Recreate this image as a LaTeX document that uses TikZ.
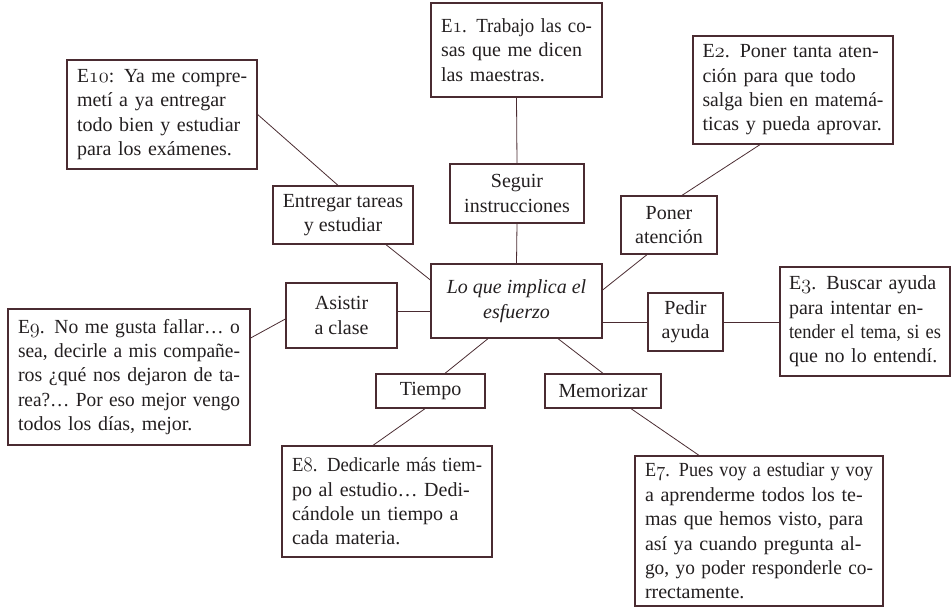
\documentclass[tikz,border=0pt]{standalone}
\usepackage{graphicx}
\usepackage{fontspec}
\setmainfont{Liberation Serif}
\usetikzlibrary{positioning}
\definecolor{frame}{HTML}{4A2B31}
\definecolor{ink}{HTML}{231F20}
\newlength\qwidth
\newsavebox\qlinebox
\newcommand\jl[1]{\sbox\qlinebox{#1}%
  \ifdim\wd\qlinebox>\qwidth \resizebox{\qwidth}{\height}{#1}\else\makebox[\qwidth][s]{#1}\fi\\}
\newcommand\qlast[1]{\sbox\qlinebox{#1}%
  \ifdim\wd\qlinebox>\qwidth \resizebox{\qwidth}{\height}{#1}\else #1\fi}
\newcommand\osn[1]{{\usefont{OML}{cmm}{m}{it}#1}}
\tikzset{
  box/.style={draw=frame, line width=1.3pt, inner sep=0pt, text=ink,
    font=\fontsize{20}{24.4}\selectfont, align=center},
  quote/.style={box, align=left, text width=#1, execute at begin node={\setlength\qwidth{#1}}},
  link/.style={draw=frame, line width=0.8pt}
}
\begin{document}
\begin{tikzpicture}[x=1pt,y=-1pt]
\useasboundingbox (0,0) rectangle (951,611);
% quotes
\node[quote=151pt, minimum width=171pt, minimum height=94pt] (e1) at (516.5,50)
 {\jl{E\osn{1}. Trabajo las co-}\jl{sas que me dicen}\qlast{las maestras.}};
\node[quote=170pt, minimum width=190pt, minimum height=109pt] (e10) at (162,114.5)
 {\jl{E\osn{10}: Ya me compre-}\jl{metí a ya entregar}\jl{todo bien y estudiar}\qlast{para los exámenes.}};
\node[quote=181pt, minimum width=200pt, minimum height=108pt] (e2) at (793,90)
 {\jl{E\osn{2}. Poner tanta aten-}\jl{ción para que todo}\jl{salga bien en matemá-}\qlast{ticas y pueda aprovar.}};
\node[quote=152pt, minimum width=170pt, minimum height=109pt] (e3) at (865,321.5)
 {\jl{E\osn{3}. Buscar ayuda}\jl{para intentar en-}\jl{tender el tema, si es}\qlast{que no lo entendí.}};
\node[quote=222pt, minimum width=242pt, minimum height=136pt] (e9) at (129,377)
 {\jl{E\osn{9}. No me gusta fallar… o}\jl{sea, decirle a mis compañe-}\jl{ros ¿qué nos dejaron de ta-}\jl{rea?… Por eso mejor vengo}\qlast{todos los días, mejor.}};
\node[quote=190pt, minimum width=210pt, minimum height=111pt] (e8) at (387,501.5)
 {\jl{E\osn{8}. Dedicarle más tiem-}\jl{po al estudio… Dedi-}\jl{cándole un tiempo a}\qlast{cada materia.}};
\node[quote=228pt, minimum width=248pt, minimum height=150pt] (e7) at (759,531)
 {\jl{E\osn{7}. Pues voy a estudiar y voy}\jl{a aprenderme todos los te-}\jl{mas que hemos visto, para}\jl{así ya cuando pregunta al-}\jl{go, yo poder responderle co-}\qlast{rrectamente.}};
% categories
\node[box, minimum width=140pt, minimum height=58pt] (ent) at (343,215) {Entregar tareas\\y estudiar};
\node[box, minimum width=134pt, minimum height=59pt] (seg) at (517,193.5) {Seguir\\instrucciones};
\node[box, minimum width=96pt, minimum height=58pt] (pon) at (669,225) {Poner\\atención};
\node[box, minimum width=75pt, minimum height=58pt] (ped) at (685.5,322) {Pedir\\ayuda};
\node[box, minimum width=111pt, minimum height=65pt] (asis) at (341.5,315.5) {Asistir\\a clase};
\node[box, minimum width=109pt, minimum height=34pt] (tie) at (430.5,391) {Tiempo};
\node[box, minimum width=116pt, minimum height=34pt] (mem) at (603,391) {Memorizar};
% centre
\node[box, minimum width=171pt, minimum height=74pt, font=\fontsize{20}{24.4}\selectfont\itshape] (ctr) at (516.5,301) {Lo que implica el\\esfuerzo};
% connectors
\draw[link] (e10.east) -- ([xshift=-5pt]ent.north);
\draw[link] ([xshift=43pt]ent.south) -- ([yshift=21pt]ctr.west);
\draw[link] (e1.south) -- (seg.north);
\draw[link] (seg.south) -- (ctr.north);
\draw[link] ([xshift=-33pt]e2.south) -- ([xshift=13pt]pon.north);
\draw[link] ([xshift=-22pt]pon.south) -- ([yshift=11pt]ctr.east);
\draw[link] (ped.west -| ctr.east) -- (ped.west);
\draw[link] (ped.east) -- (ped.east -| e3.west);
\draw[link] ([yshift=4pt]asis.east) -- ([yshift=4pt]asis.east -| ctr.west);
\draw[link] ([yshift=39pt]e9.east) -- ([yshift=-3.5pt]asis.west);
\draw[link] ([xshift=-28.5pt]ctr.south) -- ([xshift=14.5pt]tie.north);
\draw[link] ([xshift=-5.5pt]tie.south) -- ([xshift=-14pt]e8.north);
\draw[link] ([xshift=41.5pt]ctr.south) -- (mem.north);
\draw[link] ([xshift=28pt]mem.south) -- ([xshift=-60pt]e7.north);
\end{tikzpicture}
\end{document}
